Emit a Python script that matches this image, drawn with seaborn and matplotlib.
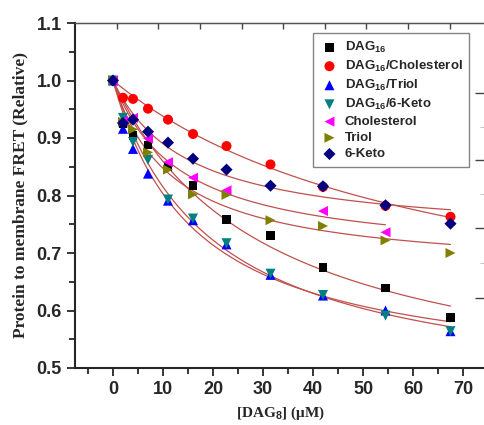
import numpy as np
import pandas as pd
import seaborn as sns
import matplotlib.pyplot as plt

# concentration of DAG8 (uM)
conc = [0, 2, 4, 7, 11, 16, 22.7, 31.5, 42, 54.5, 67.5]

dag16 = [1.0, 0.925, 0.904, 0.888, 0.850, 0.817, 0.758, 0.730, 0.675, 0.639, 0.588]
dag16_chol = [1.0, 0.970, 0.968, 0.951, 0.932, 0.907, 0.886, 0.854, 0.815, 0.782, 0.763]
dag16_triol = [1.0, 0.916, 0.881, 0.838, 0.791, 0.757, 0.715, 0.662, 0.626, 0.600, 0.564]
dag16_keto = [1.0, 0.935, 0.893, 0.862, 0.793, 0.760, 0.717, 0.664, 0.627, 0.591, 0.564]
chol = [1.0, 0.930, 0.935, 0.899, 0.858, 0.831, 0.809, np.nan, 0.773, 0.736, np.nan]
triol = [1.0, 0.928, 0.915, 0.875, 0.845, 0.802, 0.801, 0.757, 0.747, 0.722, 0.700]
keto = [1.0, 0.926, 0.932, 0.911, 0.892, 0.864, 0.845, 0.817, 0.816, 0.783, 0.751]

labels = [r'DAG$_{\mathbf{16}}$', r'DAG$_{\mathbf{16}}$/Cholesterol', r'DAG$_{\mathbf{16}}$/Triol',
          r'DAG$_{\mathbf{16}}$/6-Keto', 'Cholesterol', 'Triol', '6-Keto']
series = [dag16, dag16_chol, dag16_triol, dag16_keto, chol, triol, keto]
colors = ['black', 'red', 'blue', '#008080', '#ff00ff', '#808000', '#000080']
markers = ['s', 'o', '^', 'v', '<', '>', 'D']
msizes = [40, 52, 52, 52, 52, 52, 38]

rows = []
for lab, ys in zip(labels, series):
    for x, y in zip(conc, ys):
        rows.append({'conc': x, 'fret': y, 'sample': lab})
df = pd.DataFrame(rows).dropna()


def fit_hyperbola(x, y):
    # y = 1 - A*x/(K+x), grid over K, least squares for A
    best = None
    for K in np.linspace(1, 400, 800):
        f = x / (K + x)
        A = np.sum(f * (1 - y)) / np.sum(f * f)
        err = np.sum((1 - A * f - y) ** 2)
        if best is None or err < best[0]:
            best = (err, A, K)
    return best[1], best[2]


sns.set_style('ticks')
plt.rcParams['font.family'] = ['Liberation Sans', 'DejaVu Sans']
plt.rcParams['mathtext.fontset'] = 'custom'
plt.rcParams['mathtext.rm'] = 'Liberation Sans:bold'
plt.rcParams['mathtext.bf'] = 'Liberation Sans:bold'

fig = plt.figure(figsize=(4.85, 4.25), dpi=100)
ax = fig.add_axes([75 / 485, 57 / 425, 411 / 485, 345 / 425])

fit_rows = []
for lab in labels:
    d = df[df['sample'] == lab]
    xs = d['conc'].to_numpy()
    ys = d['fret'].to_numpy()
    A, K = fit_hyperbola(xs, ys)
    xx = np.linspace(0, xs.max(), 120)
    for a, b in zip(xx, 1 - A * xx / (K + xx)):
        fit_rows.append({'conc': a, 'fret': b, 'sample': lab})
fit_df = pd.DataFrame(fit_rows)

sns.lineplot(data=fit_df, x='conc', y='fret', units='sample', estimator=None,
             color='#c0504d', lw=0.9, ax=ax, zorder=2, legend=False)

for lab, c, m, s in zip(labels, colors, markers, msizes):
    d = df[df['sample'] == lab]
    sns.scatterplot(data=d, x='conc', y='fret', marker=m, color=c, s=s,
                    edgecolor='none', ax=ax, zorder=3, label=lab)

ax.set_xlim(-7.6, 74.6)
ax.set_ylim(0.5, 1.1)
ax.set_xticks(np.arange(0, 71, 10))
ax.set_xticks(np.arange(-5, 71, 5), minor=True)
ax.set_yticks(np.arange(0.5, 1.11, 0.1))
ax.set_yticks(np.arange(0.55, 1.1, 0.1), minor=True)
ax.yaxis.set_major_formatter(plt.FormatStrFormatter('%.1f'))
ax.tick_params(which='major', length=6, width=1.3, labelsize=13)
ax.tick_params(which='minor', length=4, width=1.3)
for lbl in ax.get_xticklabels() + ax.get_yticklabels():
    lbl.set_fontweight('bold')
for side in ['left', 'bottom']:
    ax.spines[side].set_linewidth(1.5)
for side in ['top', 'right']:
    ax.spines[side].set_linewidth(1.0)
    ax.spines[side].set_color('#555555')

top = ax.secondary_xaxis('top')
top.set_xticks([9.0, 25.7, 42.3, 59.0])
top.set_xticks([0.7, 17.4, 34.0, 50.6, 67.3], minor=True)
top.tick_params(which='both', direction='in', length=4, width=1, labeltop=False, colors='#444444')

right = ax.secondary_yaxis('right')
right.set_yticks([0.979, 0.861, 0.743, 0.622])
right.set_yticks([0.920, 0.802, 0.683], minor=True)
right.tick_params(which='major', direction='in', length=8, width=1, labelright=False, colors='#444444')
right.tick_params(which='minor', direction='in', length=4, width=0.6, labelright=False, colors='#bbbbbb')

ax.set_ylabel('Protein to membrane FRET (Relative)', family='Liberation Serif',
              fontweight='bold', fontsize=12.5, labelpad=6)
ax.set_xlabel(r'[DAG$_\mathbf{8}$] (μM)', family='Liberation Serif',
              fontweight='bold', fontsize=11, labelpad=5)

leg = ax.legend(loc='upper left', bbox_to_anchor=(0.579, 0.971), frameon=True,
                fancybox=False, edgecolor='#666666', borderpad=0.5, labelspacing=0.3,
                handletextpad=0.4, handlelength=1.5, borderaxespad=0,
                prop={'family': 'Liberation Sans', 'weight': 'bold', 'size': 9.5})
leg.get_frame().set_linewidth(1.0)

fig.savefig('out.png', dpi=100)
